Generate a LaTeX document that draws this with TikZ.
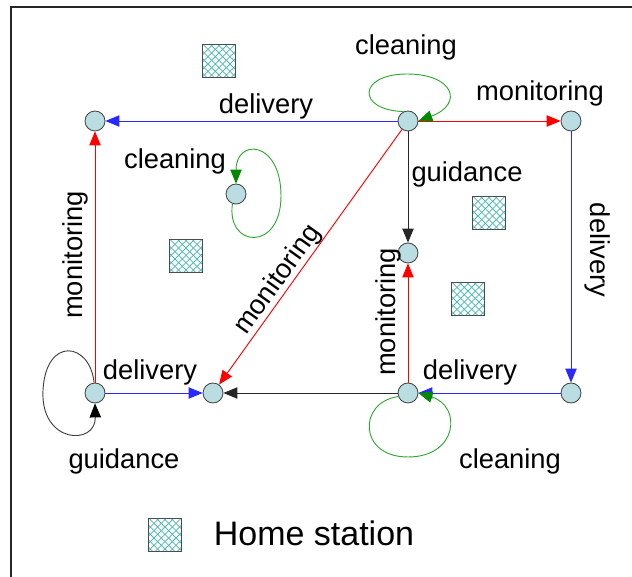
\documentclass[tikz,border=0pt]{standalone}
\usepackage{fontspec}
\setmainfont{Liberation Sans}
\usetikzlibrary{arrows.meta}
\definecolor{nodefill}{HTML}{B9DDE1}
\definecolor{hatchc}{HTML}{4DB8B8}
\definecolor{loopgreen}{HTML}{30A830}
\definecolor{tipgreen}{HTML}{008800}
\definecolor{eblue}{HTML}{2828FF}
\begin{document}
\begin{tikzpicture}[x=0.75pt,y=-0.75pt,
  st/.style={circle,draw=black!75,fill=nodefill,minimum size=15pt,inner sep=0pt,line width=0.6pt},
  lbl/.style={font=\fontsize{20.5}{24}\selectfont,inner sep=0pt},
  home/.style={rectangle,draw=black!70,minimum size=24.5pt,inner sep=0pt,line width=0.6pt,
    path picture={\foreach \k in {-6,...,6}{
      \draw[hatchc,line width=0.6pt] ([xshift=\k*5.5pt,yshift=-16pt]path picture bounding box.center) -- ++(32pt,32pt);
      \draw[hatchc,line width=0.6pt] ([xshift=\k*5.5pt,yshift=-16pt]path picture bounding box.center) -- ++(-32pt,32pt);}}},
  edge/.style={line width=0.7pt},
  tip/.style={-{Triangle[length=10.5pt,width=8.5pt]}},
  red/.style={edge,tip,color=red},
  blu/.style={edge,tip,color=eblue},
  blk/.style={edge,tip,color=black!85},
  gloop/.style={line width=0.7pt,color=loopgreen,-{Triangle[length=10.5pt,width=8.5pt,color=tipgreen]}},
  kloop/.style={line width=0.7pt,color=black!75,-{Triangle[length=10.5pt,width=8.5pt,color=black]}}
]
\useasboundingbox (0,0) rectangle (632,577);
% frame
\coordinate (f1) at (11,577);
\coordinate (f2) at (11,7);
\coordinate (f3) at (632,7);
\draw[line width=1.3pt,black!85] (f1) -- (f2) -- (f3);

% home stations
\node[home] (h1) at (219,61) {};
\node[home] (h2) at (186,256) {};
\node[home] (h3) at (489,213) {};
\node[home] (h4) at (468,299) {};
\node[home] (h5) at (165,535) {};
\node[font=\fontsize{25.5}{30}\selectfont,inner sep=0pt] (leg) at (314,533) {Home station};

% states
\node[st] (A) at (95,121) {};
\node[st] (B) at (408,121) {};
\node[st] (C) at (571,121) {};
\node[st] (D) at (236,194) {};
\node[st] (E) at (408,253) {};
\node[st] (F) at (95,393) {};
\node[st] (G) at (213,393) {};
\node[st] (H) at (408,393) {};
\node[st] (I) at (571,393) {};

% edges
\draw[blu] (B) -- (A);
\draw[red] (B) -- (C);
\draw[blk] (B) -- (E);
\draw[red] (B) -- (G);
\draw[red] (F) -- (A);
\draw[blu] (F) -- (G);
\draw[blk] (H) -- (G);
\draw[red] (H) -- (E);
\draw[blu] (I) -- (H);
\draw[blu] (C) -- (I);

% loops
\coordinate (bt) at (407,74);
\draw[gloop] (B.115) .. controls (356,110) and (358,74) .. (bt) .. controls (454,74) and (464,104) .. (B.east);
\coordinate (fl) at (43,390);
\draw[kloop] (F.95) .. controls (90,342) and (46,336) .. (fl) .. controls (40,444) and (96,446) .. (F.south);
\coordinate (hb) at (408,457);
\draw[gloop] (H.200) .. controls (358,402) and (358,457) .. (hb) .. controls (458,457) and (462,406) .. (H.east);
\coordinate (dr) at (281,196);
\draw[gloop] (D.250) .. controls (226,248) and (281,252) .. (dr) .. controls (281,140) and (236,138) .. (D.north);

% labels
\node[lbl] (l1) at (406,47) {cleaning};
\node[lbl] (l2) at (266,106) {delivery};
\node[lbl] (l3) at (540,93) {monitoring};
\node[lbl] (l4) at (467,174) {guidance};
\node[lbl] (l5) at (175,161) {cleaning};
\node[lbl,rotate=90] (l6) at (75,255) {monitoring};
\node[lbl,rotate=54.4] (l7) at (278,280) {monitoring};
\node[lbl,rotate=90] (l8) at (388,312) {monitoring};
\node[lbl,rotate=-90] (l9) at (598,250) {delivery};
\node[lbl] (l10) at (150,372) {delivery};
\node[lbl] (l11) at (470,372) {delivery};
\node[lbl] (l12) at (124,461) {guidance};
\node[lbl] (l13) at (510,461) {cleaning};
\end{tikzpicture}
\end{document}
